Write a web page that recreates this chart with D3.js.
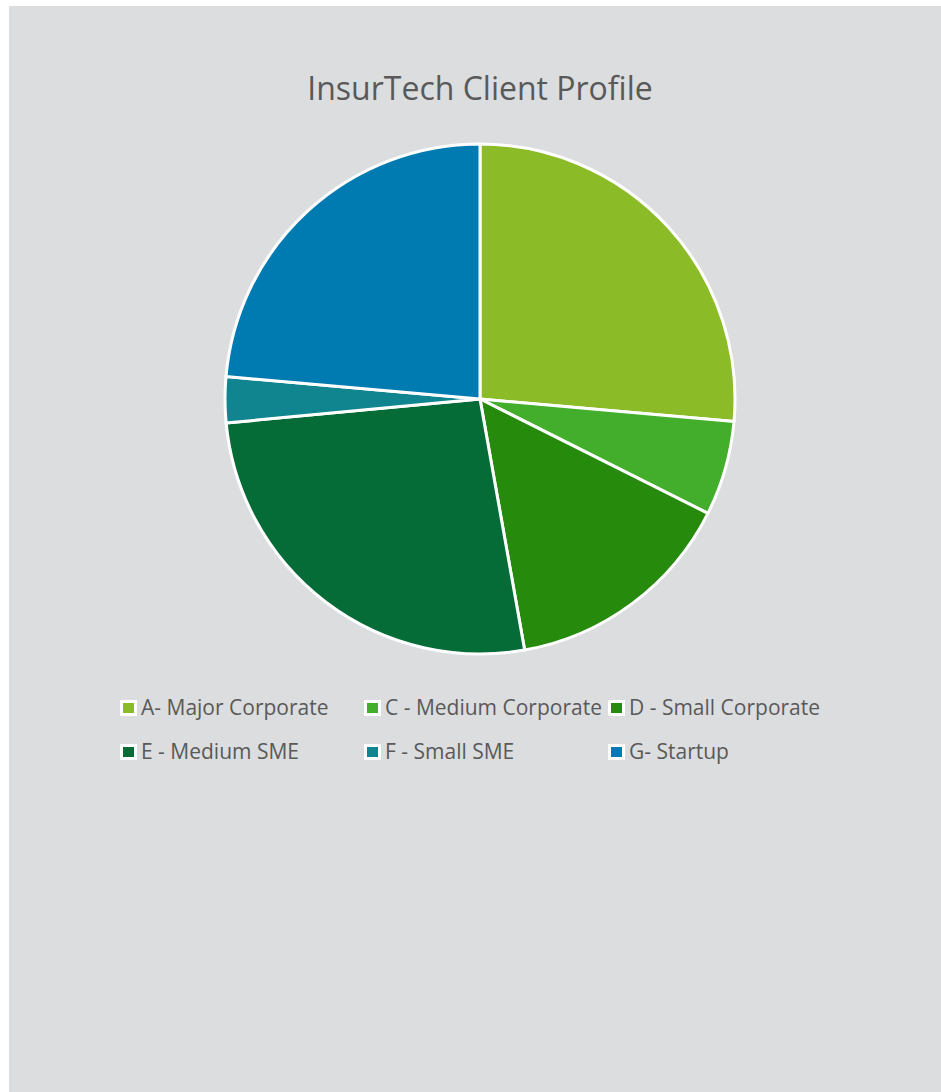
<!DOCTYPE html>
<html><head><meta charset="utf-8">
<script src="https://cdn.jsdelivr.net/npm/d3@7/dist/d3.min.js"></script>
<style>body{margin:0;background:#fff;}svg{display:block;}</style>
</head><body>
<svg id="c" width="941" height="1092"></svg>
<script>
const categories = ["A- Major Corporate","C - Medium Corporate","D - Small Corporate","E - Medium SME","F - Small SME","G- Startup"];
const values = [26.4, 6.0, 14.8, 26.3, 2.9, 23.6];
const colors = ["#8BBC28","#42AE2B","#268A0C","#056B37","#10848F","#007BB2"];
const title = "InsurTech Client Profile";

const svg = d3.select("#c");
svg.append("rect").attr("x",9).attr("y",6).attr("width",932).attr("height",1086).attr("fill","#DCDDDF");
svg.append("text").attr("x",480).attr("y",100).attr("text-anchor","middle")
  .attr("font-family","Open Sans").attr("font-size",32).attr("fill","#595959").text(title);

const cx=480, cy=399, r=255;
const pie = d3.pie().sort(null).value(d=>d);
const arc = d3.arc().innerRadius(0).outerRadius(r);
const g = svg.append("g").attr("transform",`translate(${cx},${cy})`);
g.selectAll("path").data(pie(values)).join("path")
  .attr("d",arc).attr("fill",(d,i)=>colors[i]).attr("stroke","#fff").attr("stroke-width",3).attr("stroke-linejoin","round");

const leg = svg.append("g");
categories.forEach((c,i)=>{
  const col=i%3, row=Math.floor(i/3);
  const x=120+col*244, y=708+row*44;
  leg.append("rect").attr("x",x).attr("y",y-8).attr("width",17).attr("height",16).attr("fill","#fff");
  leg.append("rect").attr("x",x+3).attr("y",y-5).attr("width",11).attr("height",10).attr("fill",colors[i]);
  leg.append("text").attr("x",x+21).attr("y",y+7).attr("font-family","Open Sans").attr("font-size",21).attr("fill","#595959").text(c);
});
</script>
</body></html>
